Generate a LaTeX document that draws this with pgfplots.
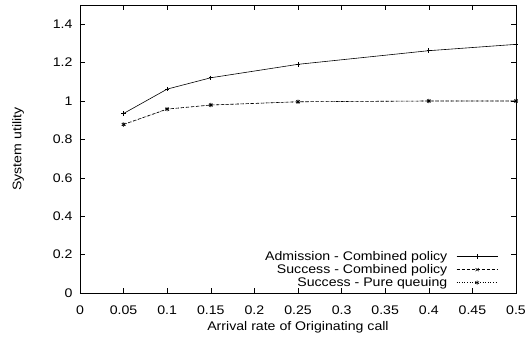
\documentclass[border=0pt]{standalone}
\usepackage{fontspec}
\setmainfont{Liberation Sans}[FakeStretch=1.13]
\usepackage{pgfplots}
\pgfplotsset{compat=1.18}
\newcommand{\ff}{\fontsize{12.5}{14}\selectfont}
\begin{document}
\begin{tikzpicture}[font=\ff]
\useasboundingbox (0,0) rectangle (531pt,339pt);
\begin{axis}[
  at={(80pt,46pt)}, anchor=south west,
  scale only axis, width=436pt, height=288pt,
  xmin=0, xmax=0.5, ymin=0, ymax=1.5,
  xtick={0,0.05,0.1,0.15,0.2,0.25,0.3,0.35,0.4,0.45,0.5},
  xticklabels={0,0.05,0.1,0.15,0.2,0.25,0.3,0.35,0.4,0.45,0.5},
  ytick={0,0.2,0.4,0.6,0.8,1,1.2,1.4},
  yticklabels={0,0.2,0.4,0.6,0.8,1,1.2,1.4},
  tick align=inside, major tick length=5pt,
  tick style={black, line width=0.5pt},
  axis line style={line width=0.6pt},
  tick label style={font=\ff},
  label style={font=\ff},
  xticklabel style={yshift=-9pt},
  yticklabel style={xshift=-4pt},
  /pgf/number format/assume math mode=true,
  xlabel={Arrival rate of Originating call},
  ylabel={System utility},
  xlabel style={yshift=0pt},
  ylabel style={yshift=22pt},
  legend cell align=right,
  legend plot pos=right,
  legend style={draw=none, fill=none, at={(rel axis cs:0.959,0.01)}, anchor=south east, inner sep=0pt, row sep=-1.5pt, font=\ff,
    /tikz/every odd column/.append style={column sep=7pt}},
  legend image code/.code={\draw[mark repeat=2,mark phase=2,#1] plot coordinates {(0pt,0pt) (20.5pt,0pt) (41pt,0pt)};},
]
\addplot[black, line width=0.6pt, mark=+, mark size=2.2pt, mark options={solid}] coordinates {
(0.05,0.935) (0.1,1.062) (0.15,1.121) (0.25,1.191) (0.4,1.262) (0.5,1.295)};
\addlegendentry{Admission - Combined policy}
\addplot[black, line width=0.6pt, dash pattern=on 3pt off 2pt, mark=x, mark size=2.2pt, mark options={solid}] coordinates {
(0.05,0.878) (0.1,0.958) (0.15,0.979) (0.25,0.996) (0.4,1.0) (0.5,1.0)};
\addlegendentry{Success - Combined policy}
\addplot[black, line width=0.6pt, dotted, mark=asterisk, mark size=2.2pt, mark options={solid}] coordinates {
(0.05,0.877) (0.1,0.957) (0.15,0.979) (0.25,0.996) (0.4,1.0) (0.5,1.0)};
\addlegendentry{Success - Pure queuing}
\end{axis}
\end{tikzpicture}
\end{document}
